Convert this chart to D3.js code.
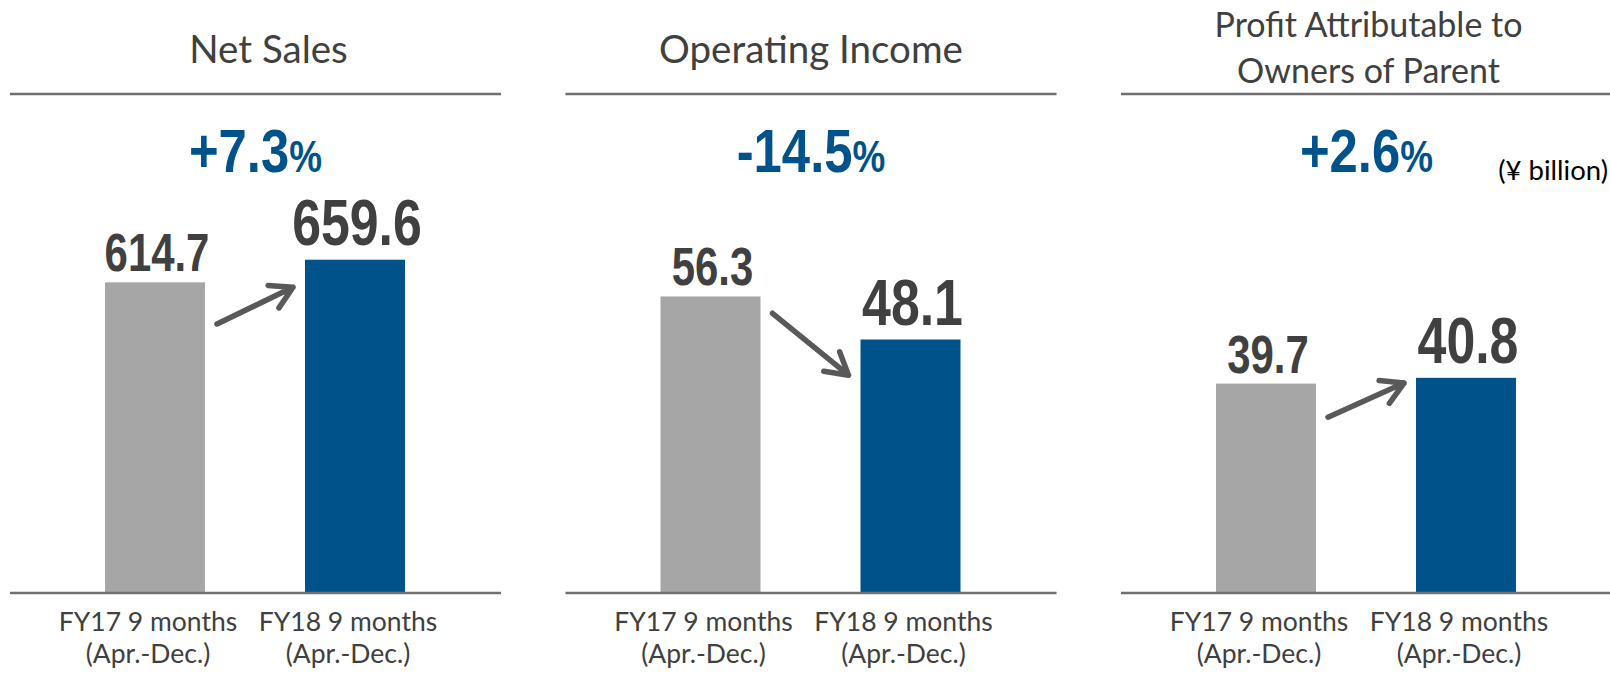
<!DOCTYPE html>
<html>
<head>
<meta charset="utf-8">
<title>FY18 9 months results</title>
<script src="https://cdn.jsdelivr.net/npm/d3@7"></script>
<style>
  body { margin: 0; background: #fff; }
</style>
</head>
<body>
<script>
// chart values
var titles = [["Net Sales"], ["Operating Income"], ["Profit Attributable to", "Owners of Parent"]];
var periods = ["FY17", "FY18"];
var periodLabels = [["FY17 9 months", "(Apr.-Dec.)"], ["FY18 9 months", "(Apr.-Dec.)"]];
var fy17 = [614.7, 56.3, 39.7];
var fy18 = [659.6, 48.1, 40.8];
var changes = ["+7.3", "-14.5", "+2.6"];
var unitLabel = "(\u00a5 billion)";
// scale tops and arrow ends, in data units
var yMax = [794, 76.2, 76.2];
var arrowFrom = [532, 53.1, 33.3];
var arrowTo = [605, 41.3, 39.8];

// layout
var W = 1610, H = 685;
var panelW = 491, panelStep = 555.5, panelLeft = 10;
var yBase = 592, yTop = 192;
var titleShift = [13, 0, 0];
var blue = "#00538a", grey = "#a6a6a6", dark = "#404040";
var sans = "Lato, 'Open Sans', sans-serif";
var narrow = "'Liberation Sans', Arial, sans-serif";

var svg = d3.select("body").append("svg")
  .attr("width", W)
  .attr("height", H);

var x = d3.scaleBand()
  .domain(periods)
  .range([45, 445])
  .paddingInner(0.5)
  .paddingOuter(0.25);

titles.forEach(function(title, i) {
  var g = svg.append("g")
    .attr("transform", "translate(" + (panelLeft + i * panelStep) + ",0)");
  var cx = panelW / 2;
  var vals = [fy17[i], fy18[i]];

  var y = d3.scaleLinear()
    .domain([0, yMax[i]])
    .range([yBase, yTop]);

  // title
  if (title.length == 1) {
    g.append("text")
      .attr("x", cx + titleShift[i])
      .attr("y", 63)
      .attr("text-anchor", "middle")
      .style("font-family", sans)
      .style("font-size", "38.5px")
      .attr("fill", dark)
      .text(title[0]);
  } else {
    title.forEach(function(t, k) {
      g.append("text")
        .attr("x", cx + 2)
        .attr("y", 37 + k * 46)
        .attr("text-anchor", "middle")
        .style("font-family", sans)
        .style("font-size", "34px")
        .attr("fill", dark)
        .text(t);
    });
  }

  // rule under the title
  g.append("line")
    .attr("x1", 0).attr("x2", panelW)
    .attr("y1", 94).attr("y2", 94)
    .attr("stroke", "#6f6f6f")
    .attr("stroke-width", 2.5);

  // change in percent
  var pct = g.append("g")
    .attr("transform", "translate(" + cx + ",172) scale(0.82,1)")
    .append("text")
    .attr("text-anchor", "middle")
    .style("font-family", narrow)
    .style("font-weight", "bold")
    .attr("fill", blue);
  pct.append("tspan").style("font-size", "62px").text(changes[i]);
  pct.append("tspan").style("font-size", "45px").text("%");

  // bars
  g.selectAll("rect.bar")
    .data(vals)
    .enter()
    .append("rect")
    .attr("class", "bar")
    .attr("x", function(d, k) { return x(periods[k]); })
    .attr("y", function(d) { return y(d); })
    .attr("width", x.bandwidth())
    .attr("height", function(d) { return yBase - y(d); })
    .attr("fill", function(d, k) { return k == 0 ? grey : blue; });

  // value labels
  g.selectAll("g.val")
    .data(vals)
    .enter()
    .append("g")
    .attr("class", "val")
    .attr("transform", function(d, k) {
      var off = k == 0 ? 11 : 15;
      var sx = k == 0 ? 0.79 : 0.81;
      return "translate(" + (x(periods[k]) + x.bandwidth() / 2 + 2) + "," + (y(d) - off) + ") scale(" + sx + ",1)";
    })
    .append("text")
    .attr("text-anchor", "middle")
    .style("font-family", narrow)
    .style("font-weight", "bold")
    .style("font-size", function(d, k) { return (k == 0 ? 53 : 64) + "px"; })
    .attr("fill", dark)
    .text(function(d) { return d3.format(".1f")(d); });

  // arrow between the bars
  var x1 = x("FY17") + x.bandwidth() + 12;
  var x2 = x("FY18") - 12;
  var y1 = y(arrowFrom[i]);
  var y2 = y(arrowTo[i]);
  var a = Math.atan2(y2 - y1, x2 - x1);
  var L = 25, th = 30 * Math.PI / 180;
  var path = d3.path();
  path.moveTo(x1, y1);
  path.lineTo(x2, y2);
  path.moveTo(x2 - L * Math.cos(a - th), y2 - L * Math.sin(a - th));
  path.lineTo(x2, y2);
  path.lineTo(x2 - L * Math.cos(a + th), y2 - L * Math.sin(a + th));
  g.append("path")
    .attr("d", path.toString())
    .attr("fill", "none")
    .attr("stroke", "#595959")
    .attr("stroke-width", 5.5)
    .attr("stroke-linecap", "round")
    .attr("stroke-linejoin", "round");

  // base line
  g.append("line")
    .attr("x1", 0).attr("x2", panelW)
    .attr("y1", yBase + 1).attr("y2", yBase + 1)
    .attr("stroke", "#6f6f6f")
    .attr("stroke-width", 2.5);

  // period labels
  periods.forEach(function(p, k) {
    periodLabels[k].forEach(function(t, j) {
      g.append("text")
        .attr("x", x(p) + x.bandwidth() / 2 - 7)
        .attr("y", 631 + j * 32)
        .attr("text-anchor", "middle")
        .style("font-family", sans)
        .style("font-size", "26.5px")
        .attr("fill", dark)
        .text(t);
    });
  });
});

// unit
svg.append("text")
  .attr("x", 1608)
  .attr("y", 180)
  .attr("text-anchor", "end")
  .style("font-family", sans)
  .style("font-size", "27.5px")
  .attr("fill", "#000")
  .text(unitLabel);
</script>
</body>
</html>
